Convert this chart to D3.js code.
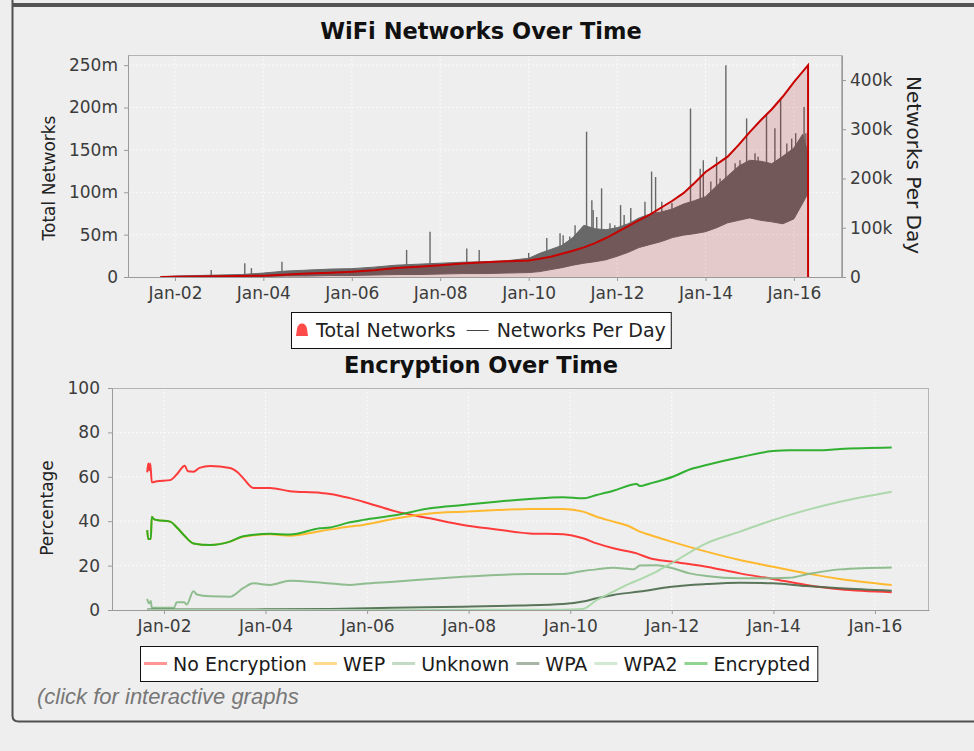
<!DOCTYPE html>
<html>
<head>
<meta charset="utf-8">
<script src="https://cdn.jsdelivr.net/npm/d3@7"></script>
<style>
  body { margin: 0; background: #eeeeee; }
  svg text { font-family: "DejaVu Sans", sans-serif; }
</style>
</head>
<body>
<svg id="svg" width="974" height="751"></svg>
<script>
// ---- data (decimal years) ----
const tickYears = [2002, 2004, 2006, 2008, 2010, 2012, 2014, 2016];
const totalTicks = [0, 50, 100, 150, 200, 250];
const perDayTicks = [0, 100, 200, 300, 400];
const pctTicks = [0, 20, 40, 60, 80, 100];

// total networks (millions)
const totalYears = [2001.67, 2002.0, 2003.0, 2004.0, 2005.0, 2005.5, 2006.0, 2006.5, 2007.0, 2007.5, 2008.0, 2008.5, 2009.0, 2009.5, 2010.0, 2010.25, 2010.5, 2010.75, 2011.0, 2011.25, 2011.5, 2011.75, 2012.0, 2012.25, 2012.5, 2012.75, 2013.0, 2013.25, 2013.5, 2013.75, 2014.0, 2014.25, 2014.5, 2014.75, 2015.0, 2015.25, 2015.5, 2015.75, 2016.0, 2016.32];
const totalValues = [0.1, 0.3, 0.8, 1.5, 4.0, 5.0, 6.3, 8.0, 10.5, 12.0, 14.0, 16.0, 17.5, 18.5, 19.5, 21.5, 24.0, 27.5, 31.0, 35.0, 40.0, 46.0, 53.0, 60.0, 67.0, 74.0, 82.0, 90.0, 99.0, 111.0, 124.0, 133.0, 142.0, 156.0, 171.0, 185.0, 198.0, 213.0, 230.0, 250.0];

// networks per day (thousands): dense band low / high
const perDayYears = [2001.67, 2002.0, 2002.5, 2003.0, 2003.5, 2004.0, 2004.5, 2005.0, 2005.5, 2006.0, 2006.5, 2007.0, 2007.5, 2008.0, 2008.5, 2009.0, 2009.5, 2010.0, 2010.25, 2010.5, 2010.75, 2011.0, 2011.25, 2011.5, 2011.75, 2012.0, 2012.25, 2012.5, 2012.75, 2013.0, 2013.25, 2013.5, 2013.75, 2014.0, 2014.25, 2014.5, 2014.75, 2015.0, 2015.25, 2015.5, 2015.75, 2016.0, 2016.2, 2016.32];
const perDayLow = [0, 0, 0, 0, 0, 1, 2, 2, 3, 3, 4, 5, 5, 6, 7, 7, 8, 9, 11, 15, 19, 24, 28, 31, 35, 42, 50, 60, 66, 72, 80, 85, 88, 92, 100, 110, 115, 120, 115, 112, 108, 118, 150, 170];
const perDayHigh = [0, 2, 3, 4, 5, 8, 12, 14, 16, 17, 20, 24, 26, 28, 30, 31, 33, 38, 48, 56, 64, 80, 105, 98, 96, 100, 108, 120, 128, 132, 138, 148, 155, 163, 185, 205, 225, 237, 235, 230, 245, 262, 290, 250];

// single-day peaks (thousands)
const spikeYears = [2002.82, 2003.58, 2003.73, 2004.42, 2007.24, 2007.77, 2008.6, 2008.88, 2010.0, 2010.41, 2010.71, 2010.78, 2010.93, 2011.05, 2011.31, 2011.43, 2011.46, 2011.54, 2011.65, 2011.84, 2011.95, 2012.08, 2012.16, 2012.31, 2012.48, 2012.63, 2012.78, 2012.87, 2013.01, 2013.24, 2013.42, 2013.66, 2013.88, 2013.95, 2014.12, 2014.25, 2014.33, 2014.46, 2014.67, 2014.78, 2014.93, 2015.12, 2015.19, 2015.38, 2015.57, 2015.7, 2015.84, 2015.95, 2016.04, 2016.14, 2016.23, 2016.27];
const spikeValues = [14, 28, 18, 31, 55, 92, 58, 55, 49, 79, 89, 85, 82, 105, 295, 156, 136, 122, 180, 109, 105, 146, 126, 140, 119, 153, 214, 203, 153, 150, 143, 342, 220, 237, 194, 244, 200, 430, 231, 237, 322, 251, 244, 329, 302, 359, 271, 281, 292, 258, 345, 292];

// encryption share (%), [year, value]
const noEncryption = [[2001.67, 62], [2001.69, 66], [2001.71, 63], [2001.73, 66], [2001.76, 57.5], [2001.86, 58], [2002.12, 58.5], [2002.25, 61], [2002.41, 65], [2002.47, 62.5], [2002.58, 62.3], [2002.7, 64], [2002.91, 64.9], [2003.3, 64], [2003.45, 62], [2003.56, 59.4], [2003.76, 55], [2004.09, 55], [2004.48, 53.5], [2005.07, 52.8], [2005.27, 52.3], [2005.66, 50.4], [2005.92, 48.8], [2006.58, 44.3], [2007.24, 41.3], [2007.89, 38.3], [2008.55, 36.3], [2009.2, 34.5], [2009.86, 34.1], [2010.25, 32.3], [2010.52, 30], [2010.85, 27.8], [2011.31, 25.5], [2011.57, 23.3], [2011.99, 21.8], [2012.68, 19.5], [2013.34, 16.5], [2013.99, 14], [2014.65, 11.3], [2015.31, 9.3], [2016.33, 8]];
const wep = [[2001.67, 36], [2001.69, 32], [2001.74, 32], [2001.76, 42], [2001.8, 41], [2001.86, 40.5], [2002.12, 39.8], [2002.25, 37.3], [2002.41, 33.3], [2002.58, 30], [2002.91, 29.3], [2003.3, 30.8], [2003.56, 33], [2004.09, 34.1], [2004.48, 33.5], [2005.07, 35.5], [2005.66, 37.6], [2005.92, 38.3], [2006.58, 41.3], [2007.24, 43.5], [2007.89, 44.3], [2008.55, 45], [2009.2, 45.5], [2009.86, 45.5], [2010.25, 44.3], [2010.52, 42], [2010.85, 39.8], [2011.18, 37.5], [2011.37, 35.3], [2011.57, 33.8], [2011.99, 30.8], [2012.68, 26.3], [2013.34, 22.5], [2013.99, 19.5], [2014.65, 16.5], [2015.31, 14], [2016.33, 11.3]];
const unknown = [[2001.67, 5], [2001.7, 3], [2001.74, 4], [2001.76, 1], [2002.2, 1], [2002.25, 3.5], [2002.4, 3.5], [2002.45, 2.5], [2002.58, 8.5], [2002.65, 7], [2002.91, 6.2], [2003.3, 6], [2003.56, 9.8], [2003.76, 12], [2004.09, 11.3], [2004.48, 13.2], [2005.07, 12.4], [2005.66, 11.3], [2005.92, 11.8], [2006.58, 12.8], [2007.24, 14], [2007.89, 15], [2008.55, 15.8], [2009.2, 16.2], [2009.86, 16.2], [2010.25, 17.6], [2010.52, 18.3], [2010.85, 19], [2011.25, 18.3], [2011.37, 20], [2011.7, 20.2], [2012.02, 18.8], [2012.35, 16.5], [2012.68, 15.3], [2013.34, 14.3], [2013.99, 14.3], [2014.32, 14.5], [2014.65, 16], [2015.31, 18.3], [2016.33, 19.2]];
const wpa = [[2001.67, 0.2], [2003.0, 0.2], [2004.0, 0.3], [2005.27, 0.5], [2006.5, 1], [2007.89, 1.5], [2009.0, 2], [2009.86, 2.7], [2010.25, 3.8], [2010.52, 5.3], [2010.85, 6.8], [2011.37, 8.3], [2011.99, 10.5], [2012.68, 11.7], [2013.34, 12.3], [2013.99, 12], [2014.65, 10.8], [2015.31, 9.8], [2016.33, 8.7]];
const wpa2 = [[2001.67, 0], [2009.5, 0.1], [2010.25, 0.5], [2010.52, 4.5], [2010.85, 8.3], [2011.18, 12], [2011.37, 13.8], [2011.7, 17.3], [2011.99, 21], [2012.68, 30], [2013.34, 35.3], [2013.99, 40.5], [2014.65, 45], [2015.31, 48.8], [2016.33, 53.3]];
const encrypted = [[2001.67, 36], [2001.69, 32], [2001.74, 32], [2001.76, 42], [2001.8, 41], [2001.86, 40.5], [2002.12, 39.8], [2002.25, 37.3], [2002.41, 33.3], [2002.58, 30], [2002.91, 29.3], [2003.3, 30.8], [2003.56, 33.2], [2004.09, 34.3], [2004.48, 34], [2005.07, 36.8], [2005.27, 37.2], [2005.66, 39.5], [2005.92, 40.6], [2006.58, 42.8], [2007.24, 45.8], [2007.89, 47.3], [2008.55, 48.8], [2009.2, 50], [2009.86, 50.8], [2010.25, 50.3], [2010.52, 51.8], [2010.85, 53.7], [2011.31, 56.8], [2011.37, 55.8], [2011.57, 57], [2011.7, 57.8], [2012.02, 60], [2012.35, 63.3], [2012.68, 65.3], [2013.34, 68.8], [2013.99, 71.6], [2014.32, 72], [2014.98, 72], [2015.31, 72.5], [2016.33, 73.2]];

const encNames = ['No Encryption', 'WEP', 'Unknown', 'WPA', 'WPA2', 'Encrypted'];
const encSeries = [noEncryption, wep, unknown, wpa, wpa2, encrypted];
const encColours = ['#ff2b2b', '#ffb41e', '#87b887', '#4d6b4d', '#a6d6a6', '#22aa22'];

function toDate(y) {
  const yr = Math.floor(y);
  const a = new Date(yr, 0, 1), b = new Date(yr + 1, 0, 1);
  return new Date(+a + (y - yr) * (b - a));
}

const svg = d3.select('#svg');

function styleAxis(g) {
  g.attr('font-size', 17).attr('font-family', '"DejaVu Sans", sans-serif');
  g.selectAll('path.domain').attr('stroke', '#9a9a9a');
  g.selectAll('.tick line').attr('stroke', '#9a9a9a');
  g.selectAll('.tick text').attr('fill', '#3c3c3c');
}

class NetworksChart {
  constructor(_config) {
    this.config = _config;
    this.initVis();
  }

  initVis() {
    let vis = this;
    const c = vis.config;

    vis.xScale = d3.scaleTime()
      .domain([toDate(c.xStart), toDate(c.xEnd)])
      .range([c.left, c.right]);
    vis.yLeft = d3.scaleLinear().domain([0, c.leftMax]).range([c.bottom, c.top]);
    vis.yRight = d3.scaleLinear().domain([0, c.rightMax]).range([c.bottom, c.top]);
    // piecewise scale giving the band top at any year, used as spike base
    vis.bandTop = d3.scaleLinear().domain(perDayYears).range(perDayHigh).clamp(true);

    vis.chartArea = svg.append('g').attr('id', 'networks');

    // grid
    vis.chartArea.selectAll('.vgrid')
      .data(tickYears)
      .join('line')
      .attr('class', 'vgrid')
      .attr('x1', d => vis.xScale(toDate(d))).attr('x2', d => vis.xScale(toDate(d)))
      .attr('y1', c.top).attr('y2', c.bottom)
      .attr('stroke', '#fbfbfb').attr('stroke-dasharray', '2,2');
    vis.chartArea.selectAll('.hgrid')
      .data(totalTicks.slice(1))
      .join('line')
      .attr('class', 'hgrid')
      .attr('x1', c.left).attr('x2', c.right)
      .attr('y1', d => vis.yLeft(d)).attr('y2', d => vis.yLeft(d))
      .attr('stroke', '#fbfbfb').attr('stroke-dasharray', '2,2');

    vis.renderVis();
  }

  renderVis() {
    let vis = this;
    const c = vis.config;

    const band = perDayYears.map((y, i) => ({ date: toDate(y), low: perDayLow[i], high: perDayHigh[i] }));
    vis.chartArea.append('path')
      .datum(band)
      .attr('d', d3.area().x(d => vis.xScale(d.date)).y0(d => vis.yRight(d.low)).y1(d => vis.yRight(d.high)))
      .attr('fill', '#686868')
      .attr('stroke', '#686868')
      .attr('stroke-width', 1);

    vis.chartArea.selectAll('.spike')
      .data(spikeYears.map((y, i) => ({ year: y, value: spikeValues[i] })))
      .join('line')
      .attr('class', 'spike')
      .attr('x1', d => vis.xScale(toDate(d.year))).attr('x2', d => vis.xScale(toDate(d.year)))
      .attr('y1', d => vis.yRight(vis.bandTop(d.year) * 0.9))
      .attr('y2', d => vis.yRight(d.value))
      .attr('stroke', '#686868')
      .attr('stroke-width', 1.4);

    const total = totalYears.map((y, i) => ({ date: toDate(y), value: totalValues[i] }));
    vis.chartArea.append('path')
      .datum(total)
      .attr('d', d3.area().x(d => vis.xScale(d.date)).y0(vis.yLeft(0)).y1(d => vis.yLeft(d.value)))
      .attr('fill', '#b00000')
      .attr('fill-opacity', 0.15);

    const last = total[total.length - 1];
    vis.chartArea.append('path')
      .datum(total.concat([{ date: last.date, value: 0 }]))
      .attr('d', d3.line().x(d => vis.xScale(d.date)).y(d => vis.yLeft(d.value)))
      .attr('fill', 'none')
      .attr('stroke', '#c80000')
      .attr('stroke-width', 2);

    // frame + axes
    vis.chartArea.append('rect')
      .attr('x', c.left + 0.5).attr('y', c.top + 0.5)
      .attr('width', c.right - c.left - 1).attr('height', c.bottom - c.top)
      .attr('fill', 'none').attr('stroke', '#b4b4b4');

    vis.xAxisG = vis.chartArea.append('g')
      .attr('transform', `translate(0,${c.bottom})`)
      .call(d3.axisBottom(vis.xScale).tickValues(tickYears.map(toDate))
        .tickFormat(d3.timeFormat('%b-%y')).tickSize(4).tickSizeOuter(0).tickPadding(6));
    styleAxis(vis.xAxisG);

    vis.yAxisG = vis.chartArea.append('g')
      .attr('transform', `translate(${c.left},0)`)
      .call(d3.axisLeft(vis.yLeft).tickValues(totalTicks)
        .tickFormat(d => d === 0 ? '0' : d + 'm').tickSize(4).tickSizeOuter(0).tickPadding(6));
    styleAxis(vis.yAxisG);

    vis.yRightG = vis.chartArea.append('g')
      .attr('transform', `translate(${c.right},0)`)
      .call(d3.axisRight(vis.yRight).tickValues(perDayTicks)
        .tickFormat(d => d === 0 ? '0' : d + 'k').tickSize(4).tickSizeOuter(0).tickPadding(4));
    styleAxis(vis.yRightG);

    vis.chartArea.append('text')
      .text('WiFi Networks Over Time')
      .attr('x', 481).attr('y', 39)
      .attr('text-anchor', 'middle')
      .style('font-size', '22.5px').style('font-weight', 700).attr('fill', '#111');

    vis.chartArea.append('text')
      .text('Total Networks')
      .attr('transform', 'translate(55,178) rotate(-90)')
      .attr('text-anchor', 'middle')
      .style('font-size', '17px').attr('fill', '#222');

    vis.chartArea.append('text')
      .text('Networks Per Day')
      .attr('transform', 'translate(907,165) rotate(90)')
      .attr('text-anchor', 'middle')
      .style('font-size', '20px').attr('fill', '#222');

    // legend
    const lg = vis.chartArea.append('g').attr('class', 'legend');
    const box = lg.append('rect')
      .attr('fill', '#ffffff').attr('stroke', '#111').attr('stroke-width', 1);
    lg.append('path')
      .attr('d', 'M296,336 L297,329 Q298,323.5 302,323.5 Q306,323.5 307,329 L308,336 Z')
      .attr('fill', '#ff4a4a');
    const t1 = lg.append('text').text('Total Networks')
      .attr('x', 316).attr('y', 337).style('font-size', '19px').attr('fill', '#222');
    const t1End = 316 + t1.node().getComputedTextLength();
    lg.append('line')
      .attr('x1', t1End + 11).attr('x2', t1End + 33).attr('y1', 330.5).attr('y2', 330.5)
      .attr('stroke', '#444').attr('stroke-width', 1);
    const t2 = lg.append('text').text('Networks Per Day')
      .attr('x', t1End + 41).attr('y', 337).style('font-size', '19px').attr('fill', '#222');
    const t2End = t1End + 41 + t2.node().getComputedTextLength();
    box.attr('x', 291.5).attr('y', 312.5).attr('width', t2End + 5 - 291).attr('height', 36);
  }
}

class EncryptionChart {
  constructor(_config) {
    this.config = _config;
    this.initVis();
  }

  initVis() {
    let vis = this;
    const c = vis.config;

    vis.xScale = d3.scaleTime()
      .domain([toDate(c.xStart), toDate(c.xEnd)])
      .range([c.left, c.right]);
    vis.yScale = d3.scaleLinear().domain([0, 100]).range([c.bottom, c.top]);

    vis.chartArea = svg.append('g').attr('id', 'encryption');

    vis.chartArea.selectAll('.vgrid')
      .data(tickYears)
      .join('line')
      .attr('class', 'vgrid')
      .attr('x1', d => vis.xScale(toDate(d))).attr('x2', d => vis.xScale(toDate(d)))
      .attr('y1', c.top).attr('y2', c.bottom)
      .attr('stroke', '#fbfbfb').attr('stroke-dasharray', '2,2');
    vis.chartArea.selectAll('.hgrid')
      .data(pctTicks.slice(1, -1))
      .join('line')
      .attr('class', 'hgrid')
      .attr('x1', c.left).attr('x2', c.right)
      .attr('y1', d => vis.yScale(d)).attr('y2', d => vis.yScale(d))
      .attr('stroke', '#fbfbfb').attr('stroke-dasharray', '2,2');

    vis.renderVis();
  }

  renderVis() {
    let vis = this;
    const c = vis.config;

    const line = d3.line()
      .x(d => vis.xScale(toDate(d[0])))
      .y(d => vis.yScale(d[1]))
      .curve(d3.curveMonotoneX);

    vis.chartArea.selectAll('.encLine')
      .data(encSeries)
      .join('path')
      .attr('class', 'encLine')
      .attr('d', line)
      .attr('fill', 'none')
      .attr('stroke', (d, i) => encColours[i])
      .attr('stroke-width', 2)
      .attr('stroke-opacity', 0.92)
      .attr('stroke-linejoin', 'round');

    vis.chartArea.append('rect')
      .attr('x', c.left + 0.5).attr('y', c.top + 0.5)
      .attr('width', c.right - c.left - 1).attr('height', c.bottom - c.top)
      .attr('fill', 'none').attr('stroke', '#b4b4b4');

    vis.xAxisG = vis.chartArea.append('g')
      .attr('transform', `translate(0,${c.bottom})`)
      .call(d3.axisBottom(vis.xScale).tickValues(tickYears.map(toDate))
        .tickFormat(d3.timeFormat('%b-%y')).tickSize(4).tickSizeOuter(0).tickPadding(5.5));
    styleAxis(vis.xAxisG);

    vis.yAxisG = vis.chartArea.append('g')
      .attr('transform', `translate(${c.left},0)`)
      .call(d3.axisLeft(vis.yScale).tickValues(pctTicks).tickSize(4).tickSizeOuter(0).tickPadding(8));
    styleAxis(vis.yAxisG);

    vis.chartArea.append('text')
      .text('Encryption Over Time')
      .attr('x', 481).attr('y', 372.5)
      .attr('text-anchor', 'middle')
      .style('font-size', '22.5px').style('font-weight', 700).attr('fill', '#111');

    vis.chartArea.append('text')
      .text('Percentage')
      .attr('transform', 'translate(53,508) rotate(-90)')
      .attr('text-anchor', 'middle')
      .style('font-size', '17px').attr('fill', '#222');

    // legend
    const lg = vis.chartArea.append('g').attr('class', 'legend');
    const box = lg.append('rect')
      .attr('fill', '#ffffff').attr('stroke', '#111').attr('stroke-width', 1);
    let xPos = 144;
    encNames.forEach((name, i) => {
      lg.append('line')
        .attr('x1', xPos).attr('x2', xPos + 23).attr('y1', 663.5).attr('y2', 663.5)
        .attr('stroke', encColours[i]).attr('stroke-opacity', 0.5).attr('stroke-width', 3);
      const t = lg.append('text').text(name)
        .attr('x', xPos + 29).attr('y', 670.5)
        .style('font-size', '19px').attr('fill', '#1a1a1a');
      xPos += 29 + t.node().getComputedTextLength() + 7;
    });
    box.attr('x', 140.5).attr('y', 646.5).attr('width', xPos - 7 + 7 - 140).attr('height', 35);

    vis.chartArea.append('text')
      .text('(click for interactive graphs')
      .attr('x', 37).attr('y', 704)
      .style('font-family', '"Liberation Sans", Arial, sans-serif')
      .style('font-style', 'italic')
      .style('font-size', '22px')
      .attr('fill', '#777');
  }
}

// panel frame
svg.append('path')
  .attr('d', 'M12.5,-10 V715.5 Q12.5,721.5 18.5,721.5 H990')
  .attr('fill', 'none').attr('stroke', '#505050').attr('stroke-width', 2);
svg.append('rect')
  .attr('x', 12).attr('y', 3).attr('width', 962).attr('height', 4)
  .attr('fill', '#545454');

new NetworksChart({ left: 128, right: 842, top: 55, bottom: 277, xStart: 2000.937, xEnd: 2017.086, leftMax: 262, rightMax: 450.7 });
new EncryptionChart({ left: 112, right: 929, top: 388, bottom: 610, xStart: 2000.976, xEnd: 2017.063 });
</script>
</body>
</html>
